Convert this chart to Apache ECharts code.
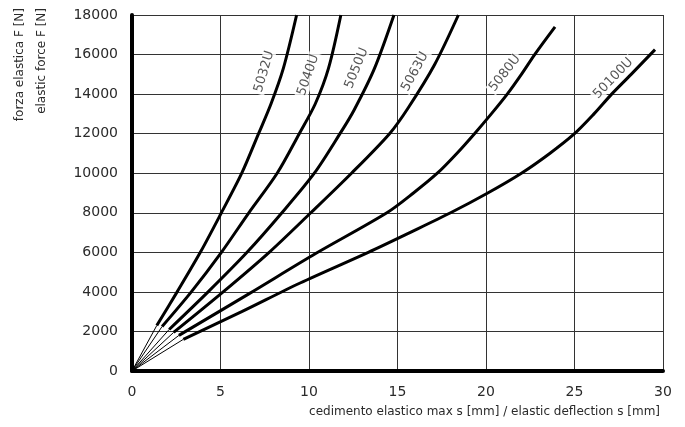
<!DOCTYPE html>
<html>
<head>
<meta charset="utf-8">
<script src="https://cdn.jsdelivr.net/npm/echarts@6/dist/echarts.min.js"></script>
<style>
html,body{margin:0;padding:0;background:#fff;}
#chart{width:685px;height:427px;}
</style>
</head>
<body>
<div id="chart"></div>
<script>
// ---- data (deflection s [mm], force F [N]) ----
const curveNames = ['5032U', '5040U', '5050U', '5063U', '5080U', '50100U'];
const s5032U = [[1.4,2300],[2.55,4000],[3.86,6000],[5.05,8000],[6.2,10000],[7.15,12000],[7.85,13500],[8.55,15300],[9.3,18000]];
const s5040U = [[1.7,2250],[3.35,4000],[5.05,6000],[6.6,8000],[8.2,10000],[9.45,12000],[10.35,13500],[11.1,15300],[11.8,18000]];
const s5050U = [[2.1,2100],[4.3,4000],[6.5,6000],[8.47,8000],[10.3,10000],[11.75,12000],[12.55,13200],[13.7,15300],[14.8,18000]];
const s5063U = [[2.35,1950],[5.15,4000],[7.75,6000],[10.1,8000],[12.4,10000],[14.55,12000],[15.6,13300],[17.1,15500],[18.44,18000]];
const s5080U = [[2.65,1800],[6.6,3900],[10.4,5950],[14.4,8000],[15.9,9000],[17.25,10000],[18.35,11000],[19.35,12000],[20.3,13000],[21.2,14000],[22.0,15000],[22.75,16000],[23.9,17400]];
const s50100U = [[2.9,1600],[6.2,3000],[9.5,4450],[13.35,6000],[15.7,7000],[18.0,8000],[20.1,9000],[22.0,10000],[23.6,11000],[25.0,12000],[26.1,13000],[27.1,14000],[28.2,15000],[29.55,16250]];
const curves = [s5032U, s5040U, s5050U, s5063U, s5080U, s50100U];
const origin = [0, 0];
// label anchor points (data units) and text angles
const labelAnchors = [[7.47,15136],[9.96,14970],[12.69,15307],[15.99,15136],[21.07,15055],[27.19,14802]];
const labelAngles = [74, 71, 68, 61.5, 52, 46];
const xTicks = {min: 0, max: 30, step: 5};
const yTicks = {min: 0, max: 18000, step: 2000};
const yTitle = ['forza elastica F [N]', 'elastic force F [N]'];
const xTitle = 'cedimento elastico max s [mm] / elastic deflection s [mm]';

const FONT = 'DejaVu Sans';
const TXT = '#2a2a2a';
const chart = echarts.init(document.getElementById('chart'), null, {renderer: 'canvas'});

const series = [];
curves.forEach((pts, i) => {
  series.push({
    type: 'line', name: curveNames[i] + '-lead', data: [origin, pts[0]],
    showSymbol: false, symbol: 'none', z: 4, silent: true,
    lineStyle: {color: '#000', width: 1}
  });
  series.push({
    type: 'line', name: curveNames[i], data: pts,
    showSymbol: false, symbol: 'none', smooth: 0.3, z: 5, silent: true,
    lineStyle: {color: '#000', width: 3, cap: 'butt'}
  });
});
series.push({
  type: 'scatter', symbolSize: 0, z: 3, silent: true,
  data: labelAnchors.map((p, i) => ({
    value: p,
    label: {rotate: labelAngles[i], formatter: curveNames[i]}
  })),
  label: {
    show: true, position: 'inside', color: TXT, fontSize: 13, fontFamily: FONT,
    backgroundColor: '#fff', padding: [0, 2]
  }
});

chart.setOption({
  animation: false,
  backgroundColor: '#fff',
  grid: {left: 132, right: 22, top: 15, bottom: 56, containLabel: false},
  xAxis: {
    type: 'value', min: xTicks.min, max: xTicks.max, interval: xTicks.step,
    axisLine: {show: true, onZero: false, lineStyle: {color: '#000', width: 4}},
    axisTick: {show: false},
    splitLine: {show: true, lineStyle: {color: '#333', width: 1}},
    axisLabel: {margin: 14, color: TXT, fontSize: 14, fontFamily: FONT}
  },
  yAxis: {
    type: 'value', min: yTicks.min, max: yTicks.max, interval: yTicks.step,
    axisLine: {show: true, onZero: false, lineStyle: {color: '#000', width: 4}},
    axisTick: {show: false},
    splitLine: {show: true, lineStyle: {color: '#333', width: 1}},
    axisLabel: {margin: 14, color: TXT, fontSize: 14, fontFamily: FONT, formatter: v => String(v)}
  },
  graphic: [
    {type: 'text', x: 20, y: 8, rotation: Math.PI / 2,
     style: {text: yTitle[0], align: 'right', verticalAlign: 'middle', fontSize: 12, fontFamily: FONT, fill: TXT}},
    {type: 'text', x: 42, y: 8, rotation: Math.PI / 2,
     style: {text: yTitle[1], align: 'right', verticalAlign: 'middle', fontSize: 12, fontFamily: FONT, fill: TXT}},
    {type: 'text', x: 660, y: 412,
     style: {text: xTitle, align: 'right', verticalAlign: 'middle', fontSize: 12, fontFamily: FONT, fill: TXT}}
  ],
  series: series
});
</script>
</body>
</html>
